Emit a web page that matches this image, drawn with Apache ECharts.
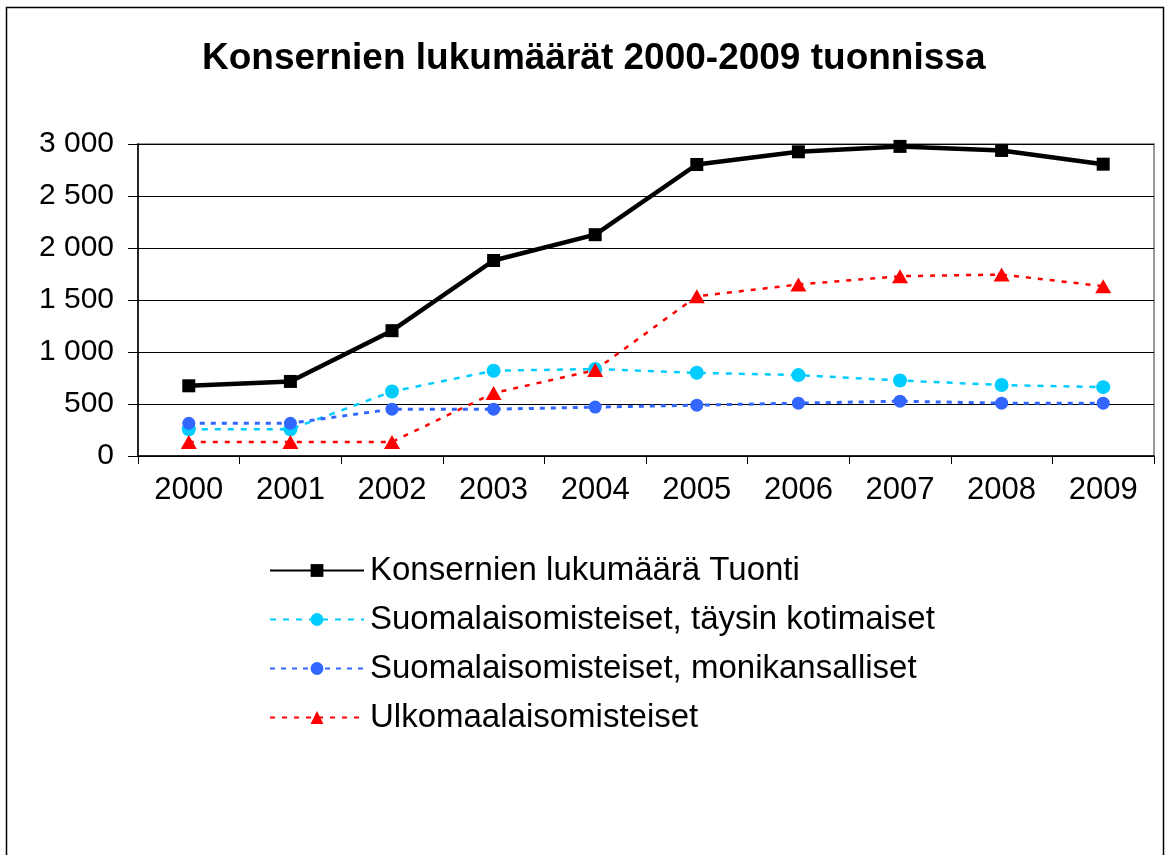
<!DOCTYPE html>
<html>
<head>
<meta charset="utf-8">
<script src="https://cdn.jsdelivr.net/npm/echarts@6/dist/echarts.min.js"></script>
<style>
html,body{margin:0;padding:0;background:#fff;}
#chart{width:1170px;height:855px;}
</style>
</head>
<body>
<div id="chart"></div>
<script>
const years = ['2000','2001','2002','2003','2004','2005','2006','2007','2008','2009'];
const konsernit = [675, 717, 1205, 1880, 2128, 2803, 2925, 2977, 2938, 2806];
const kotimaiset = [257, 257, 620, 820, 836, 800, 778, 726, 682, 662];
const monikansalliset = [315, 315, 450, 450, 470, 489, 508, 527, 508, 508];
const ulkomaalaiset = [135, 135, 135, 605, 826, 1536, 1649, 1729, 1745, 1633];
const seriesNames = [
  'Konsernien lukumäärä Tuonti',
  'Suomalaisomisteiset, täysin kotimaiset',
  'Suomalaisomisteiset, monikansalliset',
  'Ulkomaalaisomisteiset'
];
const titleText = 'Konsernien lukumäärät 2000-2009 tuonnissa';

const chart = echarts.init(document.getElementById('chart'), null, {renderer:'canvas'});
const FONT = '"Liberation Sans", Arial, sans-serif';
chart.setOption({
  backgroundColor: '#fff',
  animation: false,
  title: {
    text: titleText,
    left: 197,
    top: 35,
    textStyle: {fontFamily: FONT, fontSize: 37, fontWeight: 'bold', color: '#000'}
  },
  graphic: [{
    type: 'rect',
    shape: {x: 6.5, y: 7.5, width: 1157, height: 900},
    style: {fill: 'none', stroke: '#000', lineWidth: 1.5},
    silent: true,
    z: -1
  }],
  grid: {left: 138, right: 16, top: 144, bottom: 399, show: true, borderColor: '#999', borderWidth: 2, backgroundColor: 'transparent'},
  legend: {
    orient: 'vertical',
    left: 264,
    top: 549,
    itemWidth: 94,
    itemHeight: 16,
    itemGap: 16,
    data: seriesNames,
    textStyle: {fontFamily: FONT, fontSize: 33, color: '#000', lineHeight: 33, padding: [0,0,0,1]}
  },
  xAxis: {
    type: 'category',
    data: years,
    boundaryGap: true,
    axisLine: {lineStyle: {color: '#000', width: 1.5}},
    axisTick: {show: true, length: 8, lineStyle: {color: '#000'}},
    axisLabel: {fontFamily: FONT, fontSize: 31, color: '#000', margin: 19}
  },
  yAxis: {
    type: 'value',
    min: 0, max: 3000, interval: 500,
    axisLine: {show: true, lineStyle: {color: '#000', width: 1.5}},
    axisTick: {show: true, length: 10, lineStyle: {color: '#000'}},
    splitLine: {lineStyle: {color: '#000', width: 1}},
    axisLabel: {
      fontFamily: FONT, fontSize: 30, color: '#000', margin: 24,
      formatter: v => String(v).replace(/\B(?=(\d{3})+(?!\d))/g, ' ')
    }
  },
  series: [
    {name: seriesNames[0], type: 'line', data: konsernit, symbol: 'rect', symbolSize: 13,
     lineStyle: {color: '#000', width: 4.5}, itemStyle: {color: '#000'}, z: 5},
    {name: seriesNames[1], type: 'line', data: kotimaiset, symbol: 'circle', symbolSize: 14,
     lineStyle: {color: '#00CCFF', width: 2.5, type: [6, 7]}, itemStyle: {color: '#00CCFF'}, z: 3},
    {name: seriesNames[2], type: 'line', data: monikansalliset, symbol: 'circle', symbolSize: 13,
     lineStyle: {color: '#3366FF', width: 3, type: [5, 6]}, itemStyle: {color: '#3366FF'}, z: 4},
    {name: seriesNames[3], type: 'line', data: ulkomaalaiset, symbol: 'triangle', symbolSize: [16, 14],
     lineStyle: {color: '#FF0000', width: 2.5, type: [5, 7]}, itemStyle: {color: '#FF0000'}, z: 3}
  ]
});
</script>
</body>
</html>
